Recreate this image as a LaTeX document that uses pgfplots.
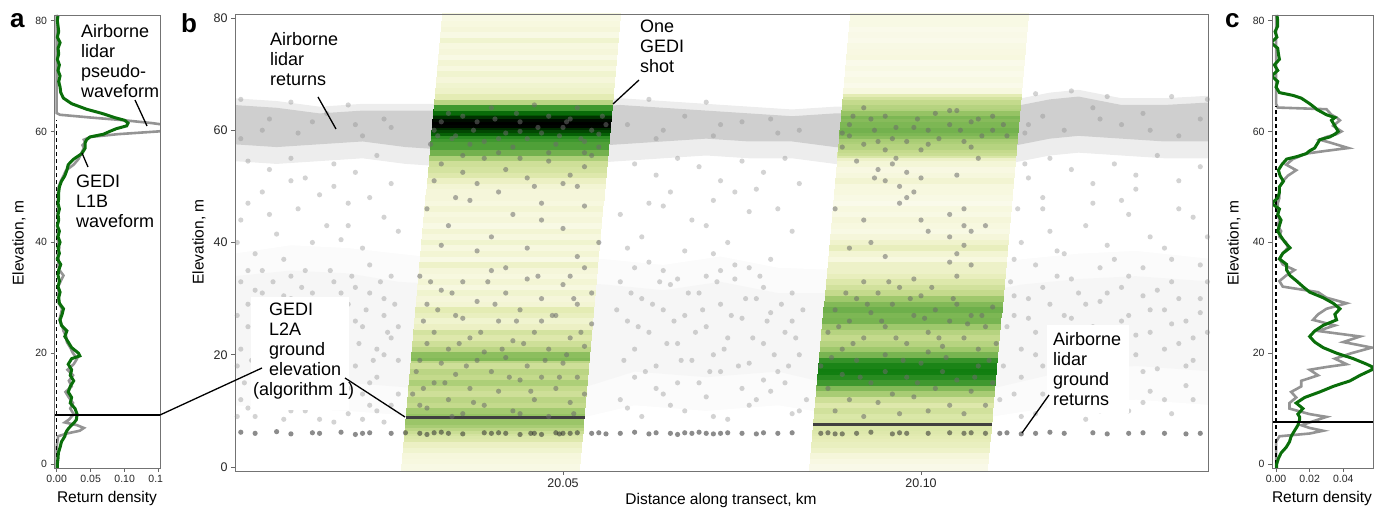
\documentclass[border=0pt]{standalone}
\usepackage{fontspec}
\setmainfont{Liberation Sans}
\usepackage{pgfplots}
\usepackage{pgfplotstable}
\pgfplotsset{compat=1.18}

\definecolor{wfgreen}{rgb}{0.04,0.43,0.04}
\definecolor{wfgrey}{rgb}{0.58,0.58,0.58}
\definecolor{ptgrey}{rgb}{0.55,0.55,0.55}
\definecolor{shotgrey}{rgb}{0.42,0.42,0.42}
\definecolor{gndgrey}{rgb}{0.18,0.18,0.18}
\definecolor{bandgrey}{rgb}{0.6,0.6,0.6}

\newcommand\ann{\fontsize{18}{20}\selectfont}
\newcommand\ttl{\fontsize{15.5}{17}\selectfont}

% panel a: airborne lidar pseudo-waveform (lid) and GEDI L1B waveform (ged), shot 1
\pgfplotstableread{
y lid ged
-1 0 0.001
0 0 0.001
1 0 0.002
2 0 0.0025
3 0 0.005
4 0.001 0.007
5 0.002 0.012
5.5 0.015 0.013
6 0.034 0.015
6.5 0.040 0.018
7 0.030 0.022
7.5 0.012 0.026
8 0.018 0.029
9 0.025 0.030
10 0.020 0.027
11 0.024 0.020
12 0.018 0.022
13 0.013 0.017
14 0.022 0.020
15 0.018 0.025
16 0.024 0.020
17 0.016 0.022
18 0.025 0.017
19 0.030 0.022
19.5 0.027 0.034
20 0.024 0.032
21 0.020 0.022
22 0.015 0.017
23 0.014 0.012
24 0.010 0.015
25 0.008 0.007
26 0.004 0.005
27 0.006 0.008
28 0.008 0.010
29 0.003 0.004
30 0.002 0.003
31 0.003 0.005
32 0.002 0.002
33 0.006 0.004
34 0.010 0.002
35 0.004 0.003
36 0.002 0.006
37 0.003 0.001
38 0.001 0.004
39 0.004 0.002
40 0.002 0.005
41 0.001 0.002
42 0.002 0.004
43 0.001 0.001
44 0.002 0.003
45 0.001 0.002
46 0.002 0.004
47 0.001 0.002
48 0.002 0.003
49 0.002 0.003
50 0.003 0.004
51 0.006 0.007
52 0.010 0.012
53 0.014 0.015
54 0.025 0.017
55 0.032 0.025
56 0.036 0.037
57 0.040 0.042
57.5 0.038 0.042
58 0.042 0.042
58.5 0.040 0.044
59 0.050 0.049
59.5 0.090 0.069
60 0.150 0.078
60.5 0.180 0.088
61 0.170 0.103
61.5 0.140 0.105
62 0.100 0.100
62.5 0.050 0.085
63 0.005 0.073
63.3 0 0.065
64 0 0.044
65 0 0.022
66 0 0.010
67 0 0.006
68 0 0.005
69 0 0.003
70 0 0.005
71 0 0.002
72 0 0.004
73 0 0.001
74 0 0.003
75 0 0.002
76 0 0.005
77 0 0.001
78 0 0.003
79 0 0.002
80 0 0.001
81 0 0.002
}\wfa

% panel c: same for shot 2
\pgfplotstableread{
y lid ged
-1 0 0.0004
0 0 0.0004
1 0 0.0014
2 0 0.003
3 0 0.006
4 0 0.008
5 0.002 0.009
5.5 0.020 0.010
6 0.028 0.011
6.5 0.020 0.012
7 0.015 0.013
8 0.025 0.014
8.5 0.030 0.014
9 0.020 0.013
10 0.008 0.016
11 0.008 0.012
12 0.012 0.017
13 0.009 0.026
14 0.015 0.034
15 0.015 0.044
16 0.025 0.050
17 0.020 0.057
17.5 0.030 0.0574
18 0.042 0.054
19 0.035 0.046
20 0.045 0.036
21 0.057 0.028
22 0.040 0.023
23 0.050 0.020
24 0.025 0.023
25 0.035 0.028
26 0.022 0.036
27 0.025 0.035
28 0.030 0.038
29 0.042 0.034
30 0.030 0.028
31 0.025 0.020
32 0.004 0.016
33 0.002 0.0123
34 0.006 0.0083
35 0.011 0.0063
36 0.004 0.0063
37 0.002 0.002
38 0.004 0.004
39 0.007 0.0083
40 0.006 0.0053
41 0.002 0.003
42 0.003 0.001
43 0.001 0.002
44 0.002 0.003
45 0.001 0.001
46 0.001 0.002
47 0.001 -0.0026
48 0.002 0.001
49 0.002 0.002
50 0.002 0.002
51 0.004 0.0044
52 0.007 0.0024
53 0.012 0.0014
54 0.006 0.0034
55 0.010 0.0063
55.5 0.014 0.013
56 0.018 0.018
56.5 0.030 0.020
57 0.043 0.023
58 0.032 0.025
58.5 0.026 0.026
59 0.030 0.032
59.5 0.036 0.035
60 0.039 0.037
61 0.034 0.035
62 0.038 0.033
62.5 0.036 0.035
63 0.033 0.030
64 0.030 0.024
64.3 0.001 0.023
65 0 0.020
66 0 0.015
66.5 0 0.010
67 0 0.002
68 0 0
69 0 0.001
70 0 -0.0026
71 0 0.001
72 0 -0.001
73 0 0.002
74 0 0.0014
75 0 0.001
76 0 -0.003
77 0 0.0005
78 0 -0.0006
79 0 0.001
80 0 0.001
81 0 0.0005
}\wfc

% airborne lidar returns outside the GEDI footprints (x: m beyond 20 km)
\pgfplotstableread{
x y
6 54.5
9 53
12 55
14 51.5
18 54
21 52.5
24 55.5
26 50.5
8 49
16 48.5
20 47
5 44
10 41.5
13 46
17 43
22 39
25 44.5
11 37
19 40.5
7 38
5 33
6 29
8 31
9 26
10 22
12 34
13 28
14 24
15 31
16 20
17 27
18 33
19 23
20 29
21 18
22 25
23 31
24 21
25 27
26 34
27 19
5 21
7 17
11 19
13 16
16 14
19 15
22 13
24 16
26 23
6 25
8 35
12 30
15 26
18 21
21 32
23 36
25 30
27 25
10 28
14 35
5 12
7 9
9 11
11 8.5
14 10
17 12
20 9.5
23 11
25 8
27 13
6 10.5
13 13
18 8
4.5 27
5.5 15
6.5 19
7.5 23
8.5 28
9.5 33
10.5 16
11.5 25
12.5 21
13.5 32
14.5 18
15.5 22
16.5 29
17.5 35
18.5 17
19.5 26
20.5 34
21.5 22
22.5 28
23.5 19
24.5 33
25.5 24
26.5 29
7 31.5
9 19.5
11 30.5
13 24
15 16
17 21.5
19 31
21 26
23 15
25 20
4.5 18
6 35
10 12.5
15 12
20 14
24 10
8 14
4.5 9
12 10
16 8.5
22 8.5
26 11
6 47
9 45
15 40
18 50
23 48
27 42
4.5 40
12 51
20 43
5 65.5
12 65
20 64.5
8 60
15 61.5
22 59
25 62
5 58.5
9 62
13 59.5
17 63
21 61
26 60.5
60 54
63 52
66 55
69 53.5
72 51
75 54.5
78 52.5
81 55
83 50.5
65 49
71 47.5
77 49.5
58 45
61 41
64 46.5
67 38.5
70 43
73 40
76 45.5
79 37
82 42
62 36.5
74 36
58 33
59 26
60 21
61 30
62 24
63 18
64 28
65 32.5
66 22
67 27
68 19
69 31
70 25
71 20
72 29
73 23
74 33.5
75 26.5
76 18.5
77 30
78 22
79 27.5
80 17
81 24
82 31
83 20
60 16
66 15
72 17
78 15.5
64 35
70 34
76 35.5
82 26
58 12
61 9
64 13
67 10
70 12.5
73 8.5
76 11
79 13.5
82 9.5
84 12
57.5 28
58.5 19
59.5 31
60.5 25
61.5 17
62.5 29
63.5 33
64.5 22
65.5 26
66.5 19
67.5 31
68.5 24
69.5 28
70.5 17
71.5 33
72.5 21
73.5 27
74.5 18
75.5 30
76.5 23
77.5 34
78.5 26
79.5 20
80.5 29
81.5 18
82.5 23
83.5 28
60 35.5
66 33.5
72 35
78 32
63 14
69 15
75 14
81 15
59 10.5
65 11
71 9
77 12
83 10
62 47
68 44
74 49
80 46
59 39
71 38
62 65.5
70 65
64 60
72 61
80 59.5
59 61
63 58.5
67 62.5
71 59
75 61.5
79 62
83 60
114.5 54
115 51.5
118 55
121 53
124 50.5
127 54
130 52
133 55.5
136 51
139 53.5
117 48
128 47.5
113.5 46
114 40
117 46
120 38
123 43
126 39.5
129 45
132 41
135 37
138 44.5
125 35.5
112.5 33
113 27
114 21
115 30
116 24
117 18
118 29
119 34
120 22
121 26.5
122 31
123 19
124 25
125 29.5
126 16.5
127 23
128 32
129 27
130 20
131 30.5
132 24
133 17.5
134 28
135 33
136 22
137 26
138 19
139 30
140 24
116 36
131 35.5
122 15.5
111 12
114 9
117 13
120 10.5
123 8.5
126 12.5
129 10
132 13.5
135 9.5
138 12
111.5 18
112 25
113 30.5
114 16
115 26.5
116 20
117 32
118 23
119 17.5
120 27
121 33.5
122 21
123 29
124 18
125 24
126 31
127 19.5
128 26
129 34
130 23.5
131 17
132 28
133 31.5
134 21
135 25.5
136 30
137 18
138 23
139 27.5
140 33
113 37
119 38.5
127 37
134 39
139 36
113 13
119 14
125 10
131 11.5
137 14.5
116 9.5
128 14
134 12
118 42
124 47
130 49.5
136 46
140 41
116 66.5
121 67
126 66
135 66
140 65.5
115 61
125 62
132 60
114.5 59.5
117 62.5
120 60
124 64
128 61
131 63
136 59
139 62
}\ptsout

% airborne lidar returns inside the two GEDI footprints
\pgfplotstableread{
x y
32 60
35 59
38 61.5
41 58.5
44 61.5
47 59.5
50 60.5
53 58
56 61
34 63
40 64
46 64.5
52 64
37 57.5
43 57
49 57.5
55 57
31.5 57.5
33 61.5
34.5 58.5
36 62.5
37.5 60
39 58
40.5 62
42 59.5
43.5 63
45 58.5
46.5 60.5
48 62.5
49.5 59
51 62
52.5 58.5
54 60
55.5 62.5
36 55.5
41 56
48 56
53 56
32.5 59
44 59.8
50.5 61.5
55 59.3
33 54
36 52.5
39 55
42 53
45 51.5
48 54.5
51 52
54 55.5
46 50
50 50.5
53 53.5
38 50.5
31 46
34 43
37 47.5
40 41
43 45
47 44
50 42.5
53 46.5
55 40
38 38.5
45 39
52 37.5
33 39.5
30 34
31 29
32 24
33 31.5
34 21
35 27
36 33
37 23
38 29.5
39 20.5
40 35
41 26
42 31
43 22.5
44 28
45 33.5
46 24
47 30
48 21
49 27
50 32.5
51 23
52 29
53 35.5
54 25.5
54 31
31 22
36 26.5
42 35.5
47 26
51 34
53 21.5
29.5 17
29 13
30 19
31 10.5
32 15
33 18.5
34 12
35 16.5
36 9.5
37 14
38 19
39 11
40 17
41 13.5
42 19.5
43 10
44 15.5
45 18
46 12
47 16
48 9
49 14
50 18.5
51 11.5
52 16
53 13
30 11
44 9.5
30.5 26
32.5 28
34.5 31
36.5 18
38.5 24
40.5 29
42.5 16
44.5 22
46.5 34
48.5 27
50.5 20
52.5 24
31.5 33
35.5 22
39.5 33
43.5 26
47.5 19
51.5 30
33.5 15
41.5 21
49.5 16
35 48
41 49
47 47
52 50
32 51
44 55
30.5 14
37.5 11.5
45.5 13.5
51.5 9.5
34.5 9
90 61
90 59
93 62
96 58.5
99 60.5
102 63
105 63.5
108 62
110 60
89 57
95 56.5
101 57.5
107 57
104 61
92 64
89 59.5
90.5 62.5
92 57.5
93.5 60
95 62.5
96.5 60.5
98 58
99.5 62
101 60
102.5 58.5
104 63.5
105.5 60
107 61.5
108.5 59
110 62.5
111.5 61
94 58
100 56.5
106 58
112 59
94 53
95 51
96 54
97 50
98 52.5
99 49
100 51.5
91 54.5
105 52
108 55
88 46
92 44
97 47
101 42
104 45
109 43
90 39
95 37.5
104 41
105 38
106 43
107 36
105 34
106 39.5
107 42
104 36.5
87 24
88 28
89 21
90 26
91 30
92 23
93 27.5
94 31
95 25
96 29
97 32
98 22
99 27
100 30.5
101 24
102 28
103 21.5
104 26
105 29
106 23
107 27
108 21
109 25
110 28.5
92 33
99 33.5
95 20
101 20.5
110.5 22
86 18
87 14
88 10
89 16.5
90 12
91 19
92 9
93 15
94 11.5
95 17
96 13
97 9.5
98 16
99 12.5
100 18.5
101 10
102 14
103 17
104 11
105 15.5
106 9.5
107 13.5
108 18
109 11
110 15
88.5 25
90.5 22
92.5 29
94.5 26
96.5 23
98.5 30
100.5 26.5
102.5 23
104.5 30
106.5 25.5
108.5 27
89.5 31
95.5 33
101.5 32
97.5 19
103.5 19.5
91.5 16
99.5 15
107.5 16
93.5 51.5
96.5 55
98 48
87.5 19.5
109.5 19
106 46
100 44
93 40
}\ptsin

% airborne lidar ground returns
\pgfplotstableread{
x y
5 6.2
7 6.0
10 6.3
12 5.9
15 6.1
16 6.0
19 6.2
21 5.8
22 6.0
23 6.1
26 6.0
28 6.1
30 6.0
31 5.8
32 6.1
33 6.2
34 6.0
36 5.9
39 6.1
40 6.0
41 6.1
42 6.0
44 5.8
45.5 6.0
46 6.0
47 5.8
49 6.1
49.5 5.9
50 6.0
51 6.0
52 6.1
54 6.0
55 6.1
56 5.9
58 6.0
60 6.2
62 5.9
63 6.1
65 6.0
66 5.8
67 6.1
68 6.0
69 6.2
70 6.0
71 5.9
72 6.0
73 6.1
75 6.0
77 5.9
78 6.1
80 6.0
82 6.1
86 6.0
87 6.1
88 5.9
89 5.9
91 6.0
93 6.2
96 5.9
97 6.1
98 6.0
101 6.0
104 6.1
106 6.0
107 6.1
109 6.0
111 6.0
112 6.1
114 5.9
116 6.0
118 6.2
120 6.0
124 6.1
126 5.9
129 6.0
131 6.1
134 6.0
137 5.9
139 6.0
}\ptsgnd

\pgfplotsset{
  colormap={gedi}{rgb255(0pt)=(250,250,234) rgb255(4pt)=(243,245,212) rgb255(10pt)=(228,236,180) rgb255(20pt)=(196,218,140) rgb255(30pt)=(150,195,100) rgb255(38pt)=(110,175,75) rgb255(45pt)=(55,148,42) rgb255(58pt)=(15,125,15) rgb255(70pt)=(5,95,5) rgb255(85pt)=(0,50,0) rgb255(105pt)=(0,0,0)},
  panel/.style={scale only axis, anchor=south west, clip=true, axis on top,
    axis line style={black!55, line width=0.8pt},
    tick align=outside, tick pos=left, major tick length=4pt,
    tick style={black!60, line width=0.7pt},
    scaled ticks=false,
    /pgf/number format/assume math mode=true,
    ytick={0,20,40,60,80}},
  dots/.style 2 args={only marks, mark=*, mark size=2.6pt,
    mark options={draw opacity=0, fill=#1, fill opacity=#2}},
}

\begin{document}
\begin{tikzpicture}
\useasboundingbox (0,0) rectangle (1386pt,511pt);

% ---------------- panel a ----------------
\begin{axis}[panel, at={(54.5pt,43pt)}, width=105.5pt, height=453pt,
  xmin=-0.0032, xmax=0.152, ymin=-0.72, ymax=81.0,
  xtick={0,0.05,0.1,0.15}, xticklabels={0.00,0.05,0.10,{0.1\phantom{5}}},
  ticklabel style={font=\fontsize{10.5}{12}\selectfont, text=black!85}]
\addplot[wfgrey, line width=2.6pt] table[x=lid, y=y] {\wfa};
\addplot[black, line width=1.4pt, dash pattern=on 4pt off 3pt] coordinates {(0,0) (0,62)};
\addplot[wfgreen, line width=3pt] table[x=ged, y=y] {\wfa};
\addplot[black, line width=2pt] coordinates {(-0.01,8.9) (0.2,8.9)};
\end{axis}

% ---------------- panel b ----------------
\begin{axis}[panel, at={(235pt,40pt)}, width=973pt, height=457pt,
  xmin=4.19, xmax=140.08, ymin=-0.71, ymax=80.71,
  xtick={50,100}, xticklabels={20.05,20.10},
  point meta min=0, point meta max=0.105, colormap name=gedi,
  ticklabel style={font=\fontsize{12.5}{14}\selectfont, text=black!85}]
% faint haze of understorey returns (two soft layers)
\addplot[draw=none, fill=bandgrey, fill opacity=0.045] coordinates {
(4,11) (4,38) (12,39.5) (20,39) (27,38) (34,37) (44,38) (56,37) (64,36) (72,37.5) (80,35.5) (90,35) (98,36) (106,35) (114,37) (122,38) (130,38.5) (141,37)
(141,11) (130,12) (120,11) (110,9) (100,8) (90,9) (80,11) (70,10) (60,11) (50,8) (40,7.5) (30,9) (20,10) (10,10.5)} -- cycle;
\addplot[draw=none, fill=bandgrey, fill opacity=0.045] coordinates {
(4,16) (4,34) (12,35) (20,34.5) (27,33) (34,32.5) (44,33.5) (56,32.5) (64,31.5) (72,33) (80,31) (90,31) (98,32) (106,30.5) (114,32.5) (122,33.5) (130,34) (141,33)
(141,17) (130,18) (120,17) (110,14) (100,13) (90,14) (80,17) (70,16) (60,17) (50,13) (40,12) (30,14) (20,15) (10,16)} -- cycle;
% canopy band of airborne lidar returns
\addplot[draw=none, fill=bandgrey, fill opacity=0.18] coordinates {
(4,65.7) (10,65.2) (16,64.2) (22,64.7) (28,64.7) (34,64.7) (40,63.7) (46,64.2) (52,65.2) (58,65.7) (64,65.2) (70,64.7) (76,64.2) (82,63.7) (88,64.2) (94,64.2) (100,63.7) (106,64.7) (112,65.2) (118,66.7) (122,67.2) (128,65.7) (134,65.7) (141,66.2)
(141,55) (134,55) (128,55.5) (122,56) (118,55.5) (112,54) (106,53.5) (100,53) (94,53.5) (88,54) (82,55) (76,55) (70,55.5) (64,55) (58,54.5) (52,54) (46,53) (40,53) (34,53.5) (28,54) (22,55) (16,54.5) (10,54) (4,54.5)} -- cycle;
\addplot[draw=none, fill=bandgrey, fill opacity=0.35] coordinates {
(4,64.5) (10,64) (16,63) (22,63.5) (28,63.5) (34,63.5) (40,62.5) (46,63) (52,64) (58,64.5) (64,64) (70,63.5) (76,63) (82,62.5) (88,63) (94,63) (100,62.5) (106,63.5) (112,64) (118,65.5) (122,66) (128,64.5) (134,64.5) (141,65)
(141,58) (134,58) (128,58.5) (122,59) (118,58.5) (112,57) (106,56.5) (100,56) (94,56.5) (88,57) (82,58) (76,58) (70,58.5) (64,58) (58,57.5) (52,57) (46,56) (40,56) (34,56.5) (28,57) (22,58) (16,57.5) (10,57) (4,57.5)} -- cycle;
% GEDI shot 1 footprint coloured by its waveform
\addplot[quiver={u=25, v=0, colored=mapped color, every arrow/.append style={line width=6pt}},
  line width=6pt, -, point meta={max(0,\thisrow{ged})}]
  table[x expr={27.42+0.0703*\thisrow{y}}, y=y] {\wfa};
% GEDI shot 2 footprint
\addplot[quiver={u=25, v=0, colored=mapped color, every arrow/.append style={line width=6pt}},
  line width=6pt, -, point meta={max(0,\thisrow{ged})}]
  table[x expr={84.41+0.0703*\thisrow{y}}, y=y] {\wfc};
\addplot[dots={ptgrey}{0.38}] table[x=x, y=y] {\ptsout};
\addplot[dots={shotgrey}{0.55}] table[x=x, y=y] {\ptsin};
\addplot[dots={gndgrey}{0.55}] table[x=x, y=y] {\ptsgnd};
% GEDI L2A ground elevations
\addplot[black!75, line width=3pt] coordinates {(28.05,8.9) (53.05,8.9)};
\addplot[black!75, line width=3pt] coordinates {(84.94,7.5) (109.94,7.5)};
\end{axis}

% ---------------- panel c ----------------
\begin{axis}[panel, at={(1272pt,43pt)}, width=101pt, height=453pt,
  xmin=-0.0024, xmax=0.0577, ymin=-0.72, ymax=81.0,
  xtick={0,0.02,0.04}, xticklabels={0.00,0.02,0.04},
  ticklabel style={font=\fontsize{10.5}{12}\selectfont, text=black!85}]
\addplot[wfgrey, line width=2.6pt] table[x=lid, y=y] {\wfc};
\addplot[black, line width=1.4pt, dash pattern=on 4pt off 3pt] coordinates {(0,0) (0,64.5)};
\addplot[wfgreen, line width=3pt] table[x=ged, y=y] {\wfc};
\addplot[black, line width=2pt] coordinates {(-0.01,7.5) (0.1,7.5)};
\end{axis}

% ---------------- annotations ----------------
\fill[white] (251pt,101pt) rectangle (349pt,214pt);
\fill[white] (1047pt,98pt) rectangle (1129pt,186pt);

\draw[black, line width=1.3pt] (135pt,411pt) -- (147pt,385pt);
\draw[black, line width=1.3pt] (88pt,344pt) -- (82pt,358pt);
\draw[black, line width=1.3pt] (318pt,414pt) -- (336pt,382pt);
\draw[black, line width=1.3pt] (639pt,431pt) -- (613pt,407pt);
\draw[black, line width=1.3pt] (160pt,96pt) -- (262pt,143pt);
\draw[black, line width=1.3pt] (345pt,133pt) -- (405pt,94pt);
\draw[black, line width=1.3pt] (1049pt,116pt) -- (1022pt,78pt);

\node[anchor=base west, inner sep=0pt, font=\ann] at (81pt,473pt) {\begin{tabular}[t]{@{}l@{}}Airborne\\lidar\\pseudo-\\waveform\end{tabular}};
\node[anchor=base west, inner sep=0pt, font=\ann] at (76pt,323pt) {\begin{tabular}[t]{@{}l@{}}GEDI\\L1B\\waveform\end{tabular}};
\node[anchor=base west, inner sep=0pt, font=\ann] at (270pt,465pt) {\begin{tabular}[t]{@{}l@{}}Airborne\\lidar\\returns\end{tabular}};
\node[anchor=base west, inner sep=0pt, font=\ann] at (640pt,478pt) {\begin{tabular}[t]{@{}l@{}}One\\GEDI\\shot\end{tabular}};
\node[anchor=base west, inner sep=0pt, font=\ann] at (269pt,195pt) {\begin{tabular}[t]{@{}l@{}}GEDI\\L2A\\ground\\elevation\end{tabular}};
\node[anchor=base west, inner sep=0pt, font=\ann] at (253pt,115pt) {(algorithm 1)};
\node[anchor=base west, inner sep=0pt, font=\ann] at (1053pt,165pt) {\begin{tabular}[t]{@{}l@{}}Airborne\\lidar\\ground\\returns\end{tabular}};

\node[anchor=base west, inner sep=0pt, font=\fontsize{26}{28}\bfseries\selectfont] at (10pt,483pt) {a};
\node[anchor=base west, inner sep=0pt, font=\fontsize{26}{28}\bfseries\selectfont] at (181pt,478pt) {b};
\node[anchor=base west, inner sep=0pt, font=\fontsize{26}{28}\bfseries\selectfont] at (1225pt,483pt) {c};

\node[rotate=90, font=\ttl] at (19pt,268pt) {Elevation, m};
\node[rotate=90, font=\ttl] at (199pt,269pt) {Elevation, m};
\node[rotate=90, font=\ttl] at (1234pt,268pt) {Elevation, m};
\node[anchor=base, font=\ttl, inner sep=0pt] at (107pt,8pt) {Return density};
\node[anchor=base, font=\ttl, inner sep=0pt] at (1322pt,8pt) {Return density};
\node[anchor=base, font=\ttl, inner sep=0pt] at (721pt,6pt) {Distance along transect, km};
\end{tikzpicture}
\end{document}
